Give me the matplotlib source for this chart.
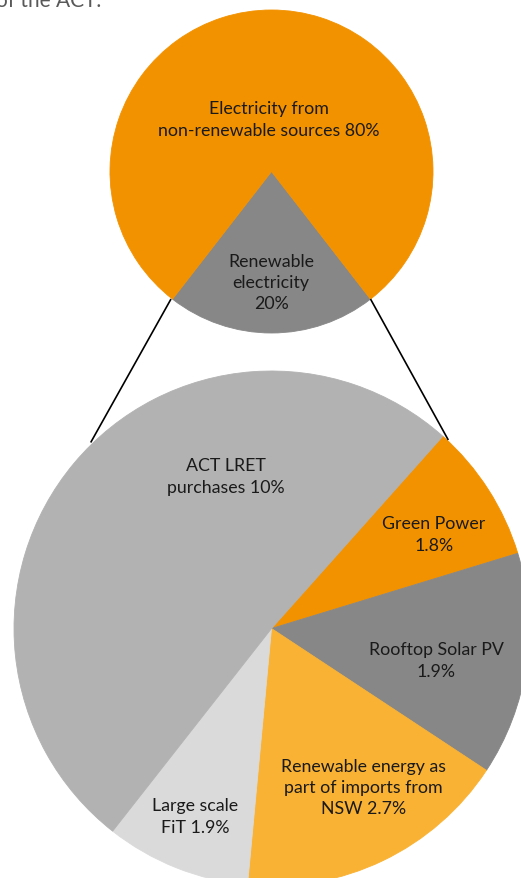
import matplotlib
matplotlib.use('Agg')
import matplotlib.pyplot as plt

# top pie: share of electricity (wedge sizes)
top_labels = ['Renewable\nelectricity\n20%', 'Electricity from\nnon-renewable sources 80%']
top_values = [21, 79]
top_colors = ['#878787', '#F39200']

# bottom pie: breakdown of the renewable part (wedge sizes)
sub_labels = ['Green Power\n1.8%', 'Rooftop Solar PV\n1.9%',
			  'Renewable energy as\npart of imports from\nNSW 2.7%',
			  'Large scale\nFiT 1.9%', 'ACT LRET\npurchases 10%']
sub_values = [1.74, 2.80, 3.44, 1.82, 10.2]
sub_colors = ['#F39200', '#878787', '#F9B233', '#DADADA', '#B2B2B2']

W, H = 521, 879
plt.rcParams['font.family'] = ['Lato', 'DejaVu Sans']

fig = plt.figure(figsize=(W / 100, H / 100), dpi=100)
ax = fig.add_axes([0, 0, 1, 1])

# y axis is flipped below, so angles run clockwise on screen
top_w, _ = ax.pie(top_values, colors=top_colors, center=(271.5, 172.5), radius=161.5,
				  startangle=90 - 0.5 * 360 * top_values[0] / sum(top_values))
sub_w, _ = ax.pie(sub_values, colors=sub_colors, center=(271.5, 629.5), radius=257.5,
				  startangle=-48.3)
for w in list(top_w) + list(sub_w):
	w.set_edgecolor(w.get_facecolor())
	w.set_linewidth(0.6)

# lines joining the renewable wedge to the breakdown
ax.plot([171.0, 90.7], [300.0, 443.5], color='black', lw=1.2, solid_capstyle='butt')
ax.plot([370.5, 448.3], [300.0, 441.0], color='black', lw=1.2, solid_capstyle='butt')

txt = dict(ha='center', va='center', fontsize=12.8, color='#1a1a1a', linespacing=1.42)
top_pos = [(271, 283), (269, 120)]
for lab, (x, y) in zip(top_labels, top_pos):
	ax.text(x, y, lab, **txt)

sub_pos = [(434, 535), (436, 661), (363.5, 788), (195, 817), (226, 477)]
for lab, (x, y) in zip(sub_labels, sub_pos):
	ax.text(x, y, lab, **txt)

# tail end of the surrounding page text
ax.text(-4, 7, 'of the ACT.', ha='left', va='baseline', fontsize=15, color='#595959')

ax.set_xlim(0, W)
ax.set_ylim(H, 0)
ax.set_aspect('equal')
ax.axis('off')

fig.savefig('out.png', dpi=100)
